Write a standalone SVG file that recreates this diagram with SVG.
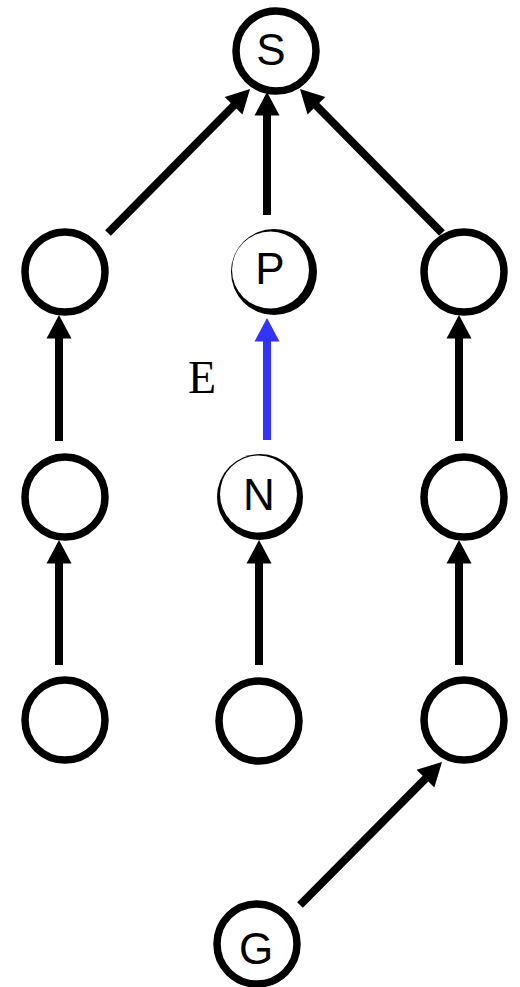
<svg xmlns="http://www.w3.org/2000/svg" width="520" height="987" viewBox="0 0 520 987">
  <style>
    .node { fill: #ffffff; stroke: #000000; stroke-width: 7.5; }
    .ring { fill: #000000; }
    .hole { fill: #ffffff; }
    .label { font-family: "Liberation Sans", Arial, sans-serif; font-size: 44px; fill: #000000; text-anchor: middle; }
    .edge { stroke: #000000; stroke-width: 8; fill: none; marker-end: url(#head); }
    .edge-hi { stroke: #3333ff; stroke-width: 8; fill: none; marker-end: url(#head-hi); }
    .edge-label { font-family: "Liberation Serif", "Times New Roman", serif; font-size: 46px; fill: #000000; }
  </style>
  <defs>
    <marker id="head" viewBox="-2 -13 24 26" markerWidth="24" markerHeight="26" refX="0" refY="0" orient="auto" markerUnits="userSpaceOnUse">
      <path d="M-1.5,-12.5 L22,0 L-1.5,12.5 Z" fill="#000000"/>
    </marker>
    <marker id="head-hi" viewBox="-2 -13 24 26" markerWidth="24" markerHeight="26" refX="0" refY="0" orient="auto" markerUnits="userSpaceOnUse">
      <path d="M-1.5,-12.5 L22,0 L-1.5,12.5 Z" fill="#3333ff"/>
    </marker>
  </defs>

  <g id="connectors">
    <line class="edge" x1="108" y1="233" x2="234.6" y2="104.7"/>
    <line class="edge" x1="267" y1="215" x2="267" y2="114"/>
    <line class="edge" x1="442" y1="233" x2="315.4" y2="104.7"/>
    <line class="edge" x1="59" y1="441" x2="59" y2="337"/>
    <line class="edge-hi" x1="267" y1="440" x2="267" y2="340"/>
    <line class="edge" x1="459" y1="441" x2="459" y2="337"/>
    <line class="edge" x1="59" y1="665" x2="59" y2="562"/>
    <line class="edge" x1="259" y1="665" x2="259" y2="562"/>
    <line class="edge" x1="459" y1="665" x2="459" y2="562"/>
    <line class="edge" x1="300" y1="905" x2="426.5" y2="777.6"/>
  </g>
  <text class="edge-label" x="188" y="393">E</text>

  <g id="node-S">
    <circle class="node" cx="276" cy="51" r="40"/>
    <text class="label" x="271" y="65">S</text>
  </g>

  <g id="node-L1">
    <circle class="node" cx="65" cy="272" r="40"/>
  </g>
  <g id="node-P">
    <circle class="ring" cx="274" cy="272" r="43"/>
    <circle class="hole" cx="270.5" cy="270" r="38.5"/>
    <text class="label" x="270" y="284">P</text>
  </g>
  <g id="node-R1">
    <circle class="node" cx="464" cy="272" r="40"/>
  </g>

  <g id="node-L2">
    <circle class="node" cx="65" cy="497" r="40"/>
  </g>
  <g id="node-N">
    <circle class="ring" cx="260" cy="497" r="43"/>
    <circle class="hole" cx="258.5" cy="494" r="38.5"/>
    <text class="label" x="259" y="510">N</text>
  </g>
  <g id="node-R2">
    <circle class="node" cx="464" cy="497" r="40"/>
  </g>

  <g id="node-L3">
    <circle class="node" cx="65" cy="720" r="40"/>
  </g>
  <g id="node-M3">
    <circle class="node" cx="259" cy="721" r="40"/>
  </g>
  <g id="node-R3">
    <circle class="node" cx="464" cy="720" r="40"/>
  </g>

  <g id="node-G">
    <circle class="node" cx="257" cy="944" r="40"/>
    <text class="label" x="256" y="964">G</text>
  </g>
</svg>
